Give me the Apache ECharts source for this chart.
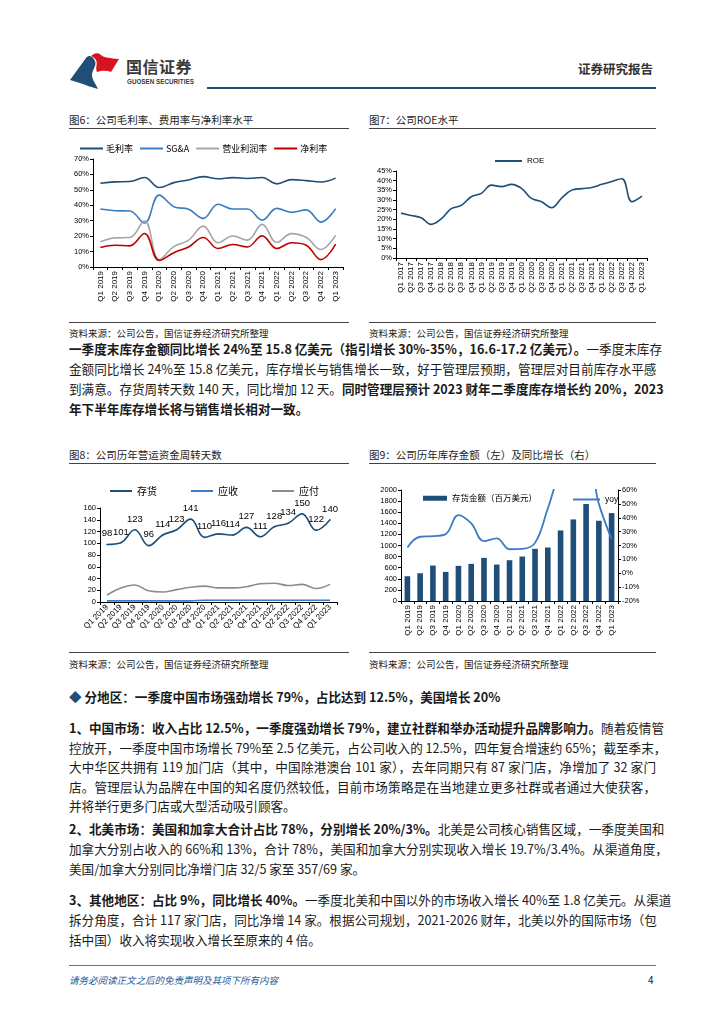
<!DOCTYPE html>
<html><head><meta charset="utf-8">
<script src="https://cdn.jsdelivr.net/npm/echarts@6/dist/echarts.min.js"></script>
<style>
body{margin:0;background:#fff;}
#page{position:relative;width:724px;height:1024px;overflow:hidden;font-family:"Noto Sans CJK SC","Noto Sans",sans-serif;color:#1a1a1a;}
.abs{position:absolute;}
.ln{position:absolute;left:69px;width:587px;height:20px;line-height:20px;font-size:12.6px;text-align:justify;text-align-last:justify;white-space:nowrap;}
.ln.last{text-align-last:left;}
.ttl{position:absolute;font-size:10.5px;color:#222;line-height:14px;}
.src{position:absolute;font-size:9.5px;color:#222;line-height:12px;}
.hr{position:absolute;height:0;border-top:1px solid #444;}
.chart{position:absolute;}
b{font-weight:700;}
</style></head>
<body><div id="page">

<!-- header -->
<svg class="abs" style="left:66px;top:50px" width="60" height="42" viewBox="66 50 60 42">
  <path d="M70,80 L86,58 C90,54 93,57 95,61 C97,66 92,70 92,75 C92,80 96,84 98,89 L88,86 C84,84 80,83 70,80 Z" fill="#1f4e79"/>
  <path d="M91,56 C94,53 98,52 101,55 C104,58 110,58 119,59 L111,72 C106,70 101,71 97,72 C95,68 98,64 96,60 C95,58 93,57 91,56 Z" fill="#d7141e"/>
</svg>
<div class="abs" style="left:126px;top:56px;font-size:16px;font-weight:700;color:#3a3a3a;letter-spacing:0.5px;line-height:20px;">国信证券</div>
<div class="abs" style="left:127px;top:78px;font-size:6.3px;font-weight:700;color:#3a3a3a;font-family:'Liberation Sans',Arial,sans-serif;line-height:8px;">GUOSEN SECURITIES</div>
<div class="abs" style="left:578px;top:60px;font-size:12.5px;font-weight:700;color:#333;line-height:18px;">证券研究报告</div>
<div class="abs" style="left:207px;top:87px;width:449px;height:2px;background:#1f4e79;"></div>

<!-- figure titles top -->
<div class="ttl" style="left:69px;top:113px;">图6：公司毛利率、费用率与净利率水平</div>
<div class="ttl" style="left:369px;top:113px;">图7：公司ROE水平</div>
<div class="hr" style="left:69px;top:128px;width:280px;"></div>
<div class="hr" style="left:369px;top:128px;width:287px;"></div>

<div id="c1" class="chart" style="left:60px;top:135px;width:295px;height:180px;"></div>
<div id="c2" class="chart" style="left:360px;top:135px;width:300px;height:180px;"></div>

<div class="hr" style="left:69px;top:322px;width:280px;"></div>
<div class="hr" style="left:369px;top:322px;width:287px;"></div>
<div class="src" style="left:69px;top:327px;">资料来源：公司公告，国信证券经济研究所整理</div>
<div class="src" style="left:369px;top:327px;">资料来源：公司公告，国信证券经济研究所整理</div>

<div class="ln" style="top:339px;"><b>一季度末库存金额同比增长 24%至 15.8 亿美元（指引增长 30%-35%，16.6-17.2 亿美元）。</b>一季度末库存</div>
<div class="ln" style="top:359px;">金额同比增长 24%至 15.8 亿美元，库存增长与销售增长一致，好于管理层预期，管理层对目前库存水平感</div>
<div class="ln" style="top:379px;">到满意。存货周转天数 140 天，同比增加 12 天。<b>同时管理层预计 2023 财年二季度库存增长约 20%，2023</b></div>
<div class="ln last" style="top:399px;"><b>年下半年库存增长将与销售增长相对一致。</b></div>

<div class="ttl" style="left:69px;top:448px;">图8：公司历年营运资金周转天数</div>
<div class="ttl" style="left:369px;top:448px;">图9：公司历年库存金额（左）及同比增长（右）</div>
<div class="hr" style="left:69px;top:463px;width:280px;"></div>
<div class="hr" style="left:369px;top:463px;width:287px;"></div>

<div id="c3" class="chart" style="left:60px;top:475px;width:295px;height:175px;"></div>
<div id="c4" class="chart" style="left:360px;top:475px;width:300px;height:175px;"></div>

<div class="hr" style="left:69px;top:652px;width:280px;"></div>
<div class="hr" style="left:369px;top:652px;width:287px;"></div>
<div class="src" style="left:69px;top:658px;">资料来源：公司公告，国信证券经济研究所整理</div>
<div class="src" style="left:369px;top:658px;">资料来源：公司公告，国信证券经济研究所整理</div>

<div class="abs" style="left:69px;top:687px;height:20px;line-height:20px;font-size:12.6px;font-weight:700;white-space:nowrap;"><span style="color:#1f4e79;">◆</span> 分地区：一季度中国市场强劲增长 79%，占比达到 12.5%，美国增长 20%</div>

<div class="ln" style="top:718px;"><b>1、中国市场：收入占比 12.5%，一季度强劲增长 79%，建立社群和举办活动提升品牌影响力。</b>随着疫情管</div>
<div class="ln" style="top:738px;">控放开，一季度中国市场增长 79%至 2.5 亿美元，占公司收入的 12.5%，四年复合增速约 65%；截至季末，</div>
<div class="ln" style="top:757px;">大中华区共拥有 119 加门店（其中，中国除港澳台 101 家），去年同期只有 87 家门店，净增加了 32 家门</div>
<div class="ln" style="top:777px;">店。管理层认为品牌在中国的知名度仍然较低，目前市场策略是在当地建立更多社群或者通过大使获客，</div>
<div class="ln last" style="top:796px;">并将举行更多门店或大型活动吸引顾客。</div>

<div class="ln" style="top:819px;"><b>2、北美市场：美国和加拿大合计占比 78%，分别增长 20%/3%。</b>北美是公司核心销售区域，一季度美国和</div>
<div class="ln" style="top:839px;">加拿大分别占收入的 66%和 13%，合计 78%，美国和加拿大分别实现收入增长 19.7%/3.4%。从渠道角度，</div>
<div class="ln last" style="top:859px;">美国/加拿大分别同比净增门店 32/5 家至 357/69 家。</div>

<div class="ln" style="top:890px;"><b>3、其他地区：占比 9%，同比增长 40%。</b>一季度北美和中国以外的市场收入增长 40%至 1.8 亿美元。从渠道</div>
<div class="ln" style="top:910px;">拆分角度，合计 117 家门店，同比净增 14 家。根据公司规划，2021-2026 财年，北美以外的国际市场（包</div>
<div class="ln last" style="top:930px;">括中国）收入将实现收入增长至原来的 4 倍。</div>

<div class="abs" style="left:69px;top:965px;width:587px;height:0;border-top:1px solid #4a7db0;"></div>
<div class="abs" style="left:69px;top:973px;font-size:9.5px;font-style:italic;color:#1f5c99;line-height:14px;">请务必阅读正文之后的免责声明及其项下所有内容</div>
<div class="abs" style="left:648px;top:973px;font-size:10px;color:#222;line-height:14px;">4</div>

</div>
<script>
// ---------- data ----------
const quarters19 = ['Q1 2019','Q2 2019','Q3 2019','Q4 2019','Q1 2020','Q2 2020','Q3 2020','Q4 2020','Q1 2021','Q2 2021','Q3 2021','Q4 2021','Q1 2022','Q2 2022','Q3 2022','Q4 2022','Q1 2023'];
const quarters17 = ['Q1 2017','Q2 2017','Q3 2017','Q4 2017','Q1 2018','Q2 2018','Q3 2018','Q4 2018','Q1 2019','Q2 2019','Q3 2019','Q4 2019','Q1 2020','Q2 2020','Q3 2020','Q4 2020','Q1 2021','Q2 2021','Q3 2021','Q4 2021','Q1 2022','Q2 2022','Q3 2022','Q4 2022','Q1 2023'];

// 图6
const grossMargin = [54.3,55.2,55.4,58.0,51.5,54.7,56.4,58.6,57.2,57.9,57.4,58.0,53.9,56.6,56.0,55.1,57.6];
const sgaRate     = [37.6,36.5,36.3,28.5,46.6,39.1,37.4,31.5,40.7,37.6,37.6,30.4,38.0,35.4,37.0,29.1,37.8];
const opMargin    = [16.3,18.9,19.1,30.0,4.8,13.2,17.4,26.5,15.7,20.1,17.4,27.6,15.9,21.6,19.1,11.3,20.7];
const netMargin   = [12.6,14.1,13.7,21.7,4.3,9.3,13.0,19.1,12.0,14.6,13.0,20.2,12.0,15.7,14.1,4.8,14.8];

// 图7
const roe = [23.2,22.0,20.8,17.4,20.2,25.5,27.2,31.7,33.4,37.7,36.9,38.1,36.0,30.8,29.1,26.0,31.0,35.1,35.9,36.5,38.1,39.6,41.0,29.1,32.0];

// 图8
const invDays = [98,101,123,96,114,123,141,110,116,114,127,111,128,134,150,122,140];
const arDays  = [2,2,2,2,2,2,2,3,3,3,3,3,3,3,3,3,3];
const apDays  = [12,24,29,19,17,21,25,27,24,24,26,31,32,28,30,23,30];

// 图9
const invAmount = [446,500,639,524,633,669,777,657,735,801,940,964,1271,1470,1747,1446,1584];
const invYoy    = [18.6,26.3,26.7,28.2,41.9,35.9,23.1,25.1,17.3,17.6,21.9,46.7,73.0,83.5,85.9,50.0,24.6];

// ---------- charts ----------
const NAVY='#1f4e79', BLUE='#3b7dc2', GRAY='#a6a6a6', RED='#c00000';
const FONT='Arial, "Liberation Sans", sans-serif';
const CJK='"Noto Sans CJK SC", sans-serif';
function xCat(data, rotate, extra){
  return Object.assign({type:'category', data:data, boundaryGap:true,
    axisLine:{lineStyle:{color:'#000',width:1}},
    axisTick:{show:true,length:3,lineStyle:{color:'#000'}},
    axisLabel:{interval:0, rotate:rotate, fontSize:8, color:'#000', fontFamily:FONT, margin:4},
    splitLine:{show:false}}, extra||{});
}
function yVal(min,max,interval,fmt,extra){
  return Object.assign({type:'value', min:min, max:max, interval:interval,
    axisLine:{show:true,lineStyle:{color:'#000',width:1}},
    axisTick:{show:true,length:3,lineStyle:{color:'#000'}},
    axisLabel:{fontSize:7.5,color:'#000',fontFamily:FONT,margin:4,formatter:fmt},
    splitLine:{show:false}}, extra||{});
}
function line(name,data,color,extra){
  return Object.assign({name:name,type:'line',data:data,smooth:0.4,symbol:'none',
    lineStyle:{color:color,width:1.6},itemStyle:{color:color}}, extra||{});
}
const plain = v => String(v);

const c1 = echarts.init(document.getElementById('c1'));
c1.setOption({
  animation:false,
  legend:{top:4,left:15,icon:'rect',itemWidth:23,itemHeight:2,itemGap:7,
    textStyle:{fontSize:9,color:'#000',fontFamily:CJK,padding:[0,0,0,-2]},
    data:['毛利率','SG&A','营业利润率','净利率']},
  grid:{left:33,top:24,width:250,height:108},
  xAxis:xCat(quarters19,90),
  yAxis:yVal(0,70,10,'{value}%'),
  series:[line('毛利率',grossMargin,NAVY),line('SG&A',sgaRate,BLUE),line('营业利润率',opMargin,GRAY),line('净利率',netMargin,RED)]
});

const c2 = echarts.init(document.getElementById('c2'));
c2.setOption({
  animation:false,
  legend:{top:17,left:130,icon:'rect',itemWidth:27,itemHeight:2,
    textStyle:{fontSize:8,color:'#000',fontFamily:FONT}, data:['ROE']},
  grid:{left:36,top:36,width:251,height:87},
  xAxis:xCat(quarters17,90),
  yAxis:yVal(0,45,5,'{value}%'),
  series:[line('ROE',roe,NAVY)]
});

const c3 = echarts.init(document.getElementById('c3'));
c3.setOption({
  animation:false,
  legend:{top:6,left:45,icon:'rect',itemWidth:22,itemHeight:2,itemGap:34,
    textStyle:{fontSize:10,color:'#000',fontFamily:CJK}, data:['存货','应收','应付']},
  grid:{left:40,top:33,width:237,height:94},
  xAxis:xCat(quarters19,45),
  yAxis:yVal(0,160,20,plain),
  series:[
    line('存货',invDays,NAVY,{symbol:'circle',symbolSize:1.5,showSymbol:true,
      labelLayout:{hideOverlap:false},
      label:{show:true,position:'top',fontSize:9.5,color:'#000',fontFamily:FONT,distance:5}}),
    line('应收',arDays,BLUE),
    line('应付',apDays,'#8c8c8c')
  ]
});

const c4 = echarts.init(document.getElementById('c4'));
c4.setOption({
  animation:false,
  legend:[
    {top:14,left:58,itemWidth:24,itemHeight:5,icon:'rect',
     textStyle:{fontSize:8.5,color:'#000',fontFamily:CJK},data:['存货金额（百万美元）']},
    {top:15,left:208,itemWidth:27,itemHeight:2,icon:'rect',
     textStyle:{fontSize:8.5,color:'#000',fontFamily:FONT},data:['yoy']}
  ],
  grid:{left:41,top:15,width:217,height:111},
  xAxis:xCat(quarters19,90),
  yAxis:[yVal(0,2000,200,plain), yVal(-20,60,10,'{value}%',{position:'right'})],
  series:[
    {name:'存货金额（百万美元）',type:'bar',data:invAmount,barWidth:'44%',itemStyle:{color:NAVY}},
    line('yoy',invYoy,BLUE,{yAxisIndex:1,clip:true,lineStyle:{color:BLUE,width:1.8}})
  ]
});
</script>
</body></html>
